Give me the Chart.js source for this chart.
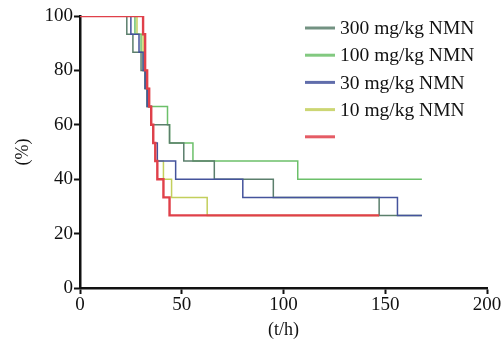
<!DOCTYPE html>
<html>
<head>
<meta charset="utf-8">
<script src="https://cdn.jsdelivr.net/npm/chart.js@4/dist/chart.umd.min.js"></script>
<style>
html,body{margin:0;padding:0;background:#fff;}
#wrap{position:relative;width:502px;height:344px;}
</style>
</head>
<body>
<div id="wrap"><canvas id="c" width="502" height="344"></canvas></div>
<script>
// ---- data ----
const seriesLabels = ['300 mg/kg NMN', '100 mg/kg NMN', '30 mg/kg NMN', '10 mg/kg NMN', ''];
const xTicks = [0, 50, 100, 150, 200];
const yTicks = [0, 20, 40, 60, 80, 100];

const t300 = [0, 23, 26, 30, 32, 33, 35, 44, 51, 66, 95, 147, 168];
const v300 = [100, 93.3, 86.7, 80, 73.3, 66.7, 60, 53.3, 46.7, 40, 33.3, 26.7, 26.7];

const t100 = [0, 27, 30, 31, 32, 33, 43, 44, 55.5, 107, 168];
const v100 = [100, 93.3, 86.7, 80, 73.3, 66.7, 60, 53.3, 46.7, 40, 40];

const t30 = [0, 25, 29, 31, 32, 33, 35, 36, 38, 47, 80, 156, 168];
const v30 = [100, 93.3, 86.7, 80, 73.3, 66.7, 60, 53.3, 46.7, 40, 33.3, 26.7, 26.7];

const t10 = [0, 28, 31, 32, 33, 34, 35, 36, 37, 41, 45, 62.5, 147];
const v10 = [100, 93.3, 86.7, 80, 73.3, 66.7, 60, 53.3, 46.7, 40, 33.3, 26.7, 26.7];

const tCtl = [0, 31, 32, 33, 34, 35, 36, 37, 38, 41, 44, 147];
const vCtl = [100, 93.3, 80, 73.3, 66.7, 60, 53.3, 46.7, 40, 33.3, 26.7, 26.7];

// ---- styles ----
const colors = ['#5b7f6c', '#6cc06a', '#44539c', '#c3cf5c', '#e0404a'];
const widths = [1.5, 1.5, 1.5, 1.5, 2.4];
const orders = [2, 3, 1, 4, 0];

function pts(ts, vs) { return ts.map((t, i) => ({x: t, y: vs[i]})); }
const series = [[t300, v300], [t100, v100], [t30, v30], [t10, v10], [tCtl, vCtl]];

const FONT = "'Liberation Serif', 'Times New Roman', serif";

const legendPlugin = {
  id: 'customLegend',
  afterDraw(chart) {
    const ctx = chart.ctx;
    ctx.save();
    ctx.font = '19.5px ' + FONT;
    ctx.textBaseline = 'middle';
    ctx.textAlign = 'left';
    const x0 = 305, x1 = 335, tx = 340, y0 = 28, dy = 27.2;
    seriesLabels.forEach((lab, i) => {
      const y = y0 + i * dy;
      ctx.strokeStyle = colors[i];
      ctx.globalAlpha = 0.85;
      ctx.lineWidth = 3;
      ctx.beginPath(); ctx.moveTo(x0, y); ctx.lineTo(x1, y); ctx.stroke();
      ctx.globalAlpha = 1;
      ctx.fillStyle = '#111';
      ctx.fillText(lab, tx, y + 1);
    });
    ctx.restore();
  }
};

new Chart(document.getElementById('c'), {
  type: 'line',
  data: {
    datasets: series.map((s, i) => ({
      label: seriesLabels[i],
      data: pts(s[0], s[1]),
      borderColor: colors[i],
      borderWidth: widths[i],
      stepped: 'before',
      pointRadius: 0,
      fill: false,
      order: orders[i]
    }))
  },
  options: {
    responsive: false,
    animation: false,
    layout: {padding: {top: 16, right: 15, left: 0, bottom: 0}},
    plugins: {legend: {display: false}, tooltip: {enabled: false}},
    scales: {
      x: {
        type: 'linear', min: 0, max: 200,
        afterBuildTicks(scale) { scale.ticks = xTicks.map(v => ({value: v})); },
        afterFit(scale) { scale.height = 56; },
        grid: {drawOnChartArea: false, drawTicks: true, tickLength: 6, tickColor: '#111', tickWidth: 2},
        border: {color: '#111', width: 2.5},
        ticks: {color: '#111', font: {family: FONT, size: 19}, padding: 0, maxRotation: 0},
        title: {display: true, text: '(t/h)', color: '#111', font: {family: FONT, size: 18}, padding: {top: 0, bottom: 3}}
      },
      y: {
        type: 'linear', min: 0, max: 100,
        afterBuildTicks(scale) { scale.ticks = yTicks.map(v => ({value: v})); },
        afterFit(scale) { scale.width = 80; },
        grid: {drawOnChartArea: false, drawTicks: true, tickLength: 6, tickColor: '#111', tickWidth: 2},
        border: {color: '#111', width: 2.5},
        ticks: {color: '#111', font: {family: FONT, size: 19}, padding: 1},
        title: {display: true, text: '(%)', color: '#111', font: {family: FONT, size: 18}, padding: {top: 12, bottom: 0}}
      }
    }
  },
  plugins: [legendPlugin]
});
</script>
</body>
</html>
